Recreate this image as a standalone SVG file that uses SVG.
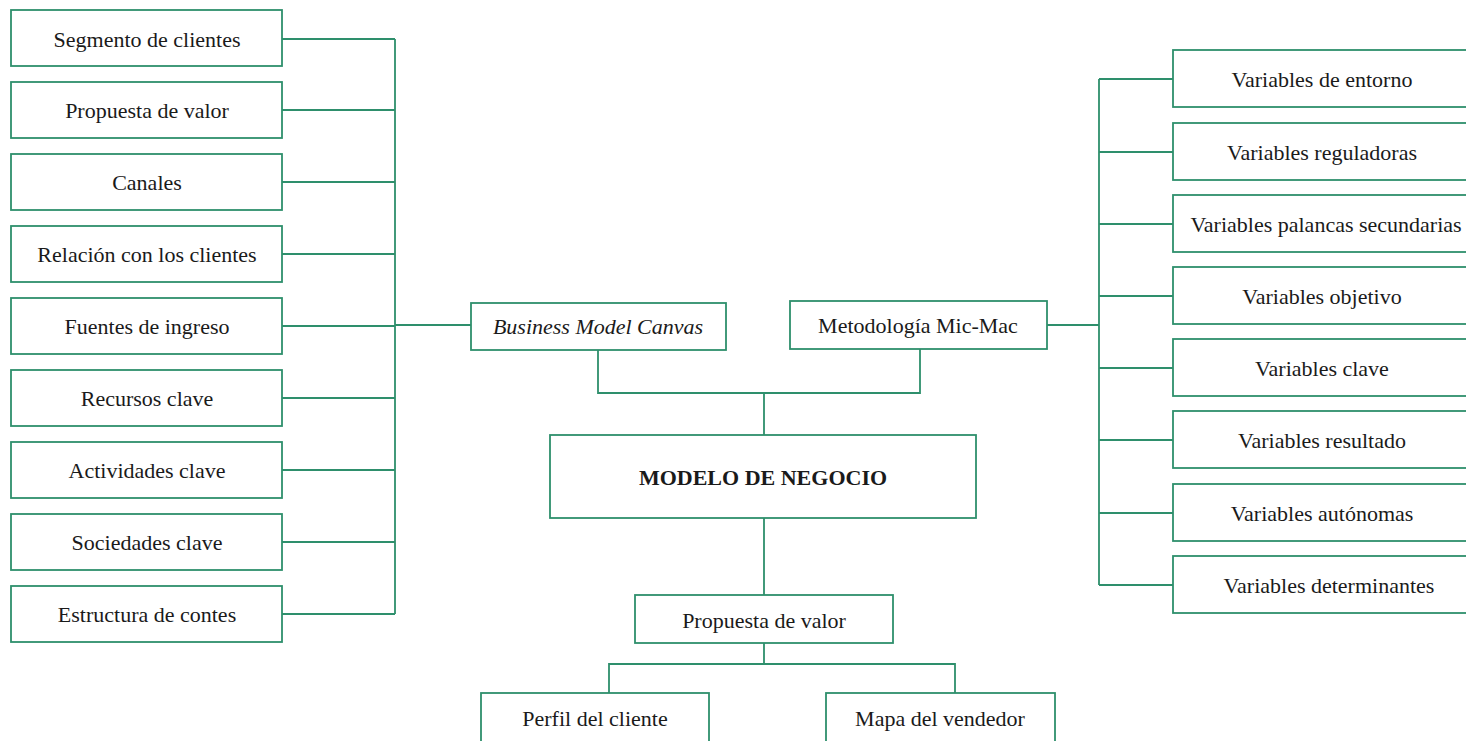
<svg xmlns="http://www.w3.org/2000/svg" width="1466" height="741" viewBox="0 0 1466 741">
  <style>
    .box { fill: #ffffff; stroke: #2e8f6c; stroke-width: 1.8; }
    .line { fill: none; stroke: #2e8f6c; stroke-width: 1.8; }
    .t { font-family: "Liberation Serif", "Times New Roman", serif; font-size: 22px; fill: #1a1a1a; text-anchor: middle; dominant-baseline: central; }
    .it { font-style: italic; }
    .b { font-weight: bold; }
  </style>
  <rect width="1466" height="741" fill="#ffffff"/>

  <!-- connectors -->
  <g id="connectors" class="line">
    <!-- left comb -->
    <path d="M282 39H395M282 110H395M282 182H395M282 254H395M282 326H395M282 398H395M282 470H395M282 542H395M282 614H395M395 39V614M395 325H471"/>
    <!-- right comb -->
    <path d="M1047 325H1099M1099 79V585M1099 79H1173M1099 152H1173M1099 224H1173M1099 296H1173M1099 368H1173M1099 440H1173M1099 513H1173M1099 585H1173"/>
    <!-- center tree -->
    <path d="M598 350V393H920V349M764 393V435M764 518V595M764 643V664M609 693V664H955V693"/>
  </g>

  <!-- left column -->
  <g id="segmento"><rect class="box" x="11" y="10" width="271" height="56"/><text class="t" x="147" y="39">Segmento de clientes</text></g>
  <g id="propuesta-valor-1"><rect class="box" x="11" y="82" width="271" height="56"/><text class="t" x="147" y="110">Propuesta de valor</text></g>
  <g id="canales"><rect class="box" x="11" y="154" width="271" height="56"/><text class="t" x="147" y="182">Canales</text></g>
  <g id="relacion"><rect class="box" x="11" y="226" width="271" height="56"/><text class="t" x="147" y="254">Relación con los clientes</text></g>
  <g id="fuentes"><rect class="box" x="11" y="298" width="271" height="56"/><text class="t" x="147" y="326">Fuentes de ingreso</text></g>
  <g id="recursos"><rect class="box" x="11" y="370" width="271" height="56"/><text class="t" x="147" y="398">Recursos clave</text></g>
  <g id="actividades"><rect class="box" x="11" y="442" width="271" height="56"/><text class="t" x="147" y="470">Actividades clave</text></g>
  <g id="sociedades"><rect class="box" x="11" y="514" width="271" height="56"/><text class="t" x="147" y="542">Sociedades clave</text></g>
  <g id="estructura"><rect class="box" x="11" y="586" width="271" height="56"/><text class="t" x="147" y="614">Estructura de contes</text></g>

  <!-- center -->
  <g id="bmc"><rect class="box" x="471" y="303" width="255" height="47"/><text class="t it" x="598" y="326">Business Model Canvas</text></g>
  <g id="micmac"><rect class="box" x="790" y="301" width="257" height="48"/><text class="t" x="918" y="325">Metodología Mic-Mac</text></g>
  <g id="modelo"><rect class="box" x="550" y="435" width="426" height="83"/><text class="t b" x="763" y="477">MODELO DE NEGOCIO</text></g>
  <g id="propuesta-valor-2"><rect class="box" x="635" y="595" width="258" height="48"/><text class="t" x="764" y="620">Propuesta de valor</text></g>
  <g id="perfil"><rect class="box" x="481" y="693" width="228" height="60"/><text class="t" x="595" y="718">Perfil del cliente</text></g>
  <g id="mapa"><rect class="box" x="826" y="693" width="229" height="60"/><text class="t" x="940" y="718">Mapa del vendedor</text></g>

  <!-- right column -->
  <g id="entorno"><rect class="box" x="1173" y="50" width="300" height="57"/><text class="t" x="1322" y="79">Variables de entorno</text></g>
  <g id="reguladoras"><rect class="box" x="1173" y="123" width="300" height="57"/><text class="t" x="1322" y="152">Variables reguladoras</text></g>
  <g id="palancas"><rect class="box" x="1173" y="195" width="300" height="57"/><text class="t" x="1326" y="224">Variables palancas secundarias</text></g>
  <g id="objetivo"><rect class="box" x="1173" y="267" width="300" height="57"/><text class="t" x="1322" y="296">Variables objetivo</text></g>
  <g id="clave"><rect class="box" x="1173" y="339" width="300" height="57"/><text class="t" x="1322" y="368">Variables clave</text></g>
  <g id="resultado"><rect class="box" x="1173" y="411" width="300" height="57"/><text class="t" x="1322" y="440">Variables resultado</text></g>
  <g id="autonomas"><rect class="box" x="1173" y="484" width="300" height="57"/><text class="t" x="1322" y="513">Variables autónomas</text></g>
  <g id="determinantes"><rect class="box" x="1173" y="556" width="300" height="57"/><text class="t" x="1329" y="585">Variables determinantes</text></g>
</svg>
